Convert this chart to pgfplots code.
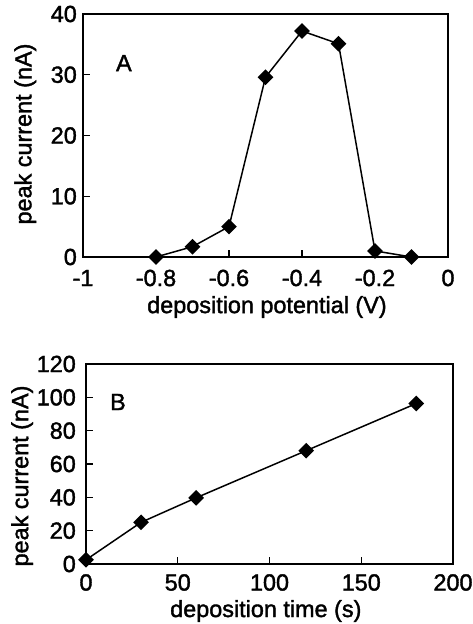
\documentclass[border=0pt]{standalone}
\usepackage{pgfplots}
\pgfplotsset{compat=1.18}
\usepackage{fontspec}
\setmainfont{Liberation Sans}[RawFeature={embolden=1.6}]

% Peak current vs. deposition potential (panel A)
\pgfplotstableread{
x y
-0.8 0.0
-0.7 1.7
-0.6 5.0
-0.5 29.6
-0.4 37.2
-0.3 35.1
-0.2 1.0
-0.1 0.0
}\potentialdata

% Peak current vs. deposition time (panel B)
\pgfplotstableread{
x y
0 2.5
30 25.0
60 39.7
120 68.0
180 96.3
}\timedata

\pgfplotsset{
  panel/.style={
    scale only axis,
    clip=false,
    axis line style={line width=1.6pt},
    tick align=inside,
    xtick pos=bottom,
    ytick pos=left,
    major tick length=7bp,
    tick style={line width=1.3pt, black},
    font=\fontsize{23.5}{28}\selectfont,
    /pgf/number format/assume math mode=true,
    yticklabel style={anchor=east, inner sep=0pt},
    xticklabel style={anchor=center, inner sep=0pt},
  },
  dataline/.style={black, line width=1.5pt, mark=square*,
    mark options={rotate=45, solid, fill=black}, mark size=4.8bp},
}

\begin{document}
\begin{tikzpicture}
\useasboundingbox (0,0) rectangle (473bp,624bp);

\begin{axis}[panel,
  at={(83bp,367bp)}, anchor=south west,
  width=365bp, height=243bp,
  xmin=-1, xmax=0, ymin=0, ymax=40,
  xtick={-1,-0.8,-0.6,-0.4,-0.2,0},
  xticklabels={-1,-0.8,-0.6,-0.4,-0.2,0},
  ytick={0,10,20,30,40},
  xticklabel style={yshift=-21bp},
  yticklabel style={xshift=-6bp},
  xlabel={deposition potential (V)},
  ylabel={peak current (nA)},
  xlabel style={at={(axis description cs:0.504,-0.206)}, anchor=center},
  ylabel style={at={(axis description cs:-0.158,0.506)}, anchor=center},
]
\addplot[dataline] table[x=x, y=y] {\potentialdata};
\node[font=\fontsize{23.5}{28}\selectfont] at (rel axis cs:0.112,0.798) {A};
\end{axis}

\begin{axis}[panel,
  at={(86bp,60bp)}, anchor=south west,
  width=367bp, height=200bp,
  xmin=0, xmax=200, ymin=0, ymax=120,
  xtick={0,50,100,150,200},
  ytick={0,20,40,60,80,100,120},
  xticklabel style={yshift=-18.5bp},
  yticklabel style={xshift=-10bp},
  xlabel={deposition time (s)},
  ylabel={peak current (nA)},
  xlabel style={at={(axis description cs:0.49,-0.235)}, anchor=center},
  ylabel style={at={(axis description cs:-0.174,0.44)}, anchor=center},
]
\addplot[dataline] table[x=x, y=y] {\timedata};
\node[font=\fontsize{23.5}{28}\selectfont] at (rel axis cs:0.087,0.81) {B};
\end{axis}
\end{tikzpicture}
\end{document}
